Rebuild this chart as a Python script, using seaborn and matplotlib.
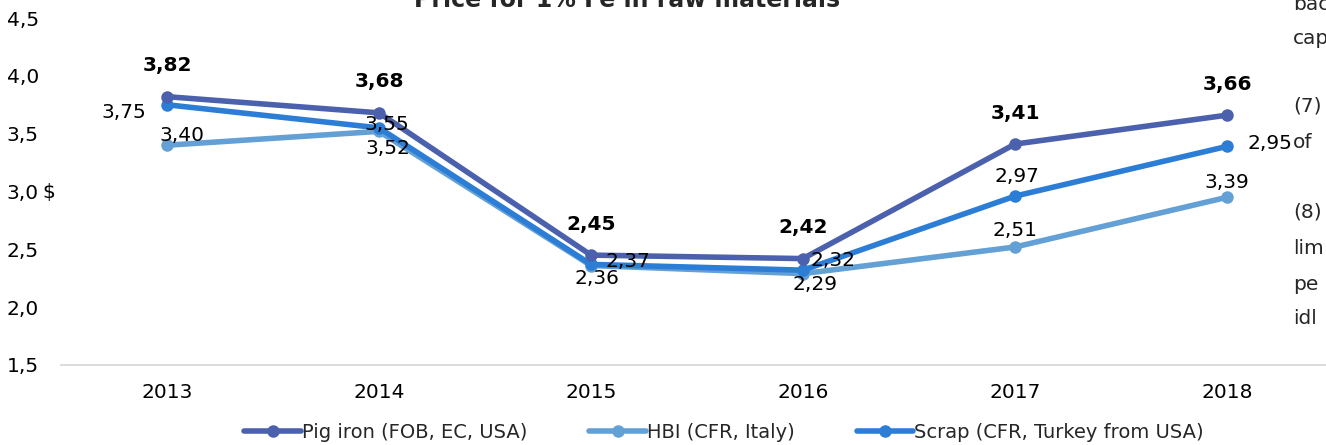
import matplotlib
matplotlib.use('Agg')
import matplotlib.pyplot as plt
import seaborn as sns

# chart data
years = ['2013', '2014', '2015', '2016', '2017', '2018']
pig_iron = [3.82, 3.68, 2.45, 2.42, 3.41, 3.66]
hbi = [3.40, 3.52, 2.36, 2.29, 2.52, 2.95]
scrap = [3.75, 3.55, 2.37, 2.32, 2.96, 3.39]
# data labels as printed in the source (the 2018 ones are swapped there)
pig_labels = ['3,82', '3,68', '2,45', '2,42', '3,41', '3,66']
hbi_labels = ['3,40', '3,52', '2,36', '2,29', '2,51', '3,39']
scrap_labels = ['3,75', '3,55', '2,37', '2,32', '2,97', '2,95']
y_ticks = [1.5, 2.0, 2.5, 3.0, 3.5, 4.0, 4.5]

title = 'Price for 1% Fe in raw materials'
# fragments of the neighbouring page text that show at the right edge
side_text = ['bac', 'cap', '(7)', 'of', '(8)', 'lim', 'pe', 'idl']

sns.set_theme(style='white')
plt.rcParams['font.family'] = ['DejaVu Sans']

W, H = 1326, 445
FS = 14.5
fig = plt.figure(figsize=(W / 100, H / 100), dpi=100)
ax = fig.add_axes([61 / W, (H - 365) / H, 1272 / W, 347 / H])

series = [
    ('HBI (CFR, Italy)', hbi, hbi_labels, '#62A0D5'),
    ('Scrap (CFR, Turkey from USA)', scrap, scrap_labels, '#2B7DD6'),
    ('Pig iron (FOB, EC, USA)', pig_iron, pig_labels, '#4B61AD'),
]
for name, values, _, color in series:
    sns.lineplot(x=years, y=values, ax=ax, label=name, color=color, marker='o',
                 linewidth=4, markersize=9, markeredgewidth=0, sort=False)

# label offsets in pixels (dx, dy), per series
offsets = {
    'Pig iron (FOB, EC, USA)': [(0, 31)] * 6,
    'Scrap (CFR, Turkey from USA)': [(-43, -8), (8, 3), (37, 3), (30, 10), (2, 20), (43, 3)],
    'HBI (CFR, Italy)': [(15, 10), (9, -17), (6, -13), (12, -11), (0, 17), (0, 15)],
}
for name, values, labels, _ in series:
    bold = name.startswith('Pig')
    for i, (v, lab) in enumerate(zip(values, labels)):
        dx, dy = offsets[name][i]
        ax.annotate(lab, xy=(i, v), xytext=(dx, dy), textcoords='offset pixels',
                    ha='center', va='center', fontsize=FS,
                    fontweight='bold' if bold else 'normal', color='black', zorder=5)

ax.set_xlim(-0.5, 5.5)
ax.set_ylim(1.5, 4.5)
ax.set_yticks(y_ticks)
ax.set_yticklabels([f'{t:.1f}'.replace('.', ',') for t in y_ticks])
ax.tick_params(axis='both', length=0, labelsize=FS, colors='black')
ax.tick_params(axis='y', pad=16)
ax.tick_params(axis='x', pad=13)
for side in ['top', 'right', 'left']:
    ax.spines[side].set_visible(False)
ax.spines['bottom'].set_color('#D9D9D9')
ax.spines['bottom'].set_linewidth(1.3)
ax.set_xlabel('')
ax.set_ylabel('$', rotation=0, fontsize=FS, color='black', ha='left', va='center')
ax.yaxis.set_label_coords(-0.015, 0.496)

handles, labels = ax.get_legend_handles_labels()
order = [2, 0, 1]
ax.get_legend().remove()
fig.legend([handles[k] for k in order], [labels[k] for k in order], loc='center',
           bbox_to_anchor=(724 / W, (H - 432) / H), ncol=3, frameon=False, fontsize=14,
           handlelength=2.9, handletextpad=0.05, columnspacing=3.2)

fig.text(627 / W, 1 - 7 / H, title, ha='center', va='baseline', fontsize=17, fontweight='bold')

for txt, y in zip(side_text, [5, 38, 106, 143, 212, 249, 285, 318]):
    fig.text(1293 / W, 1 - y / H, txt, ha='left', va='center', fontsize=FS)

fig.savefig('out.png', dpi=100)
